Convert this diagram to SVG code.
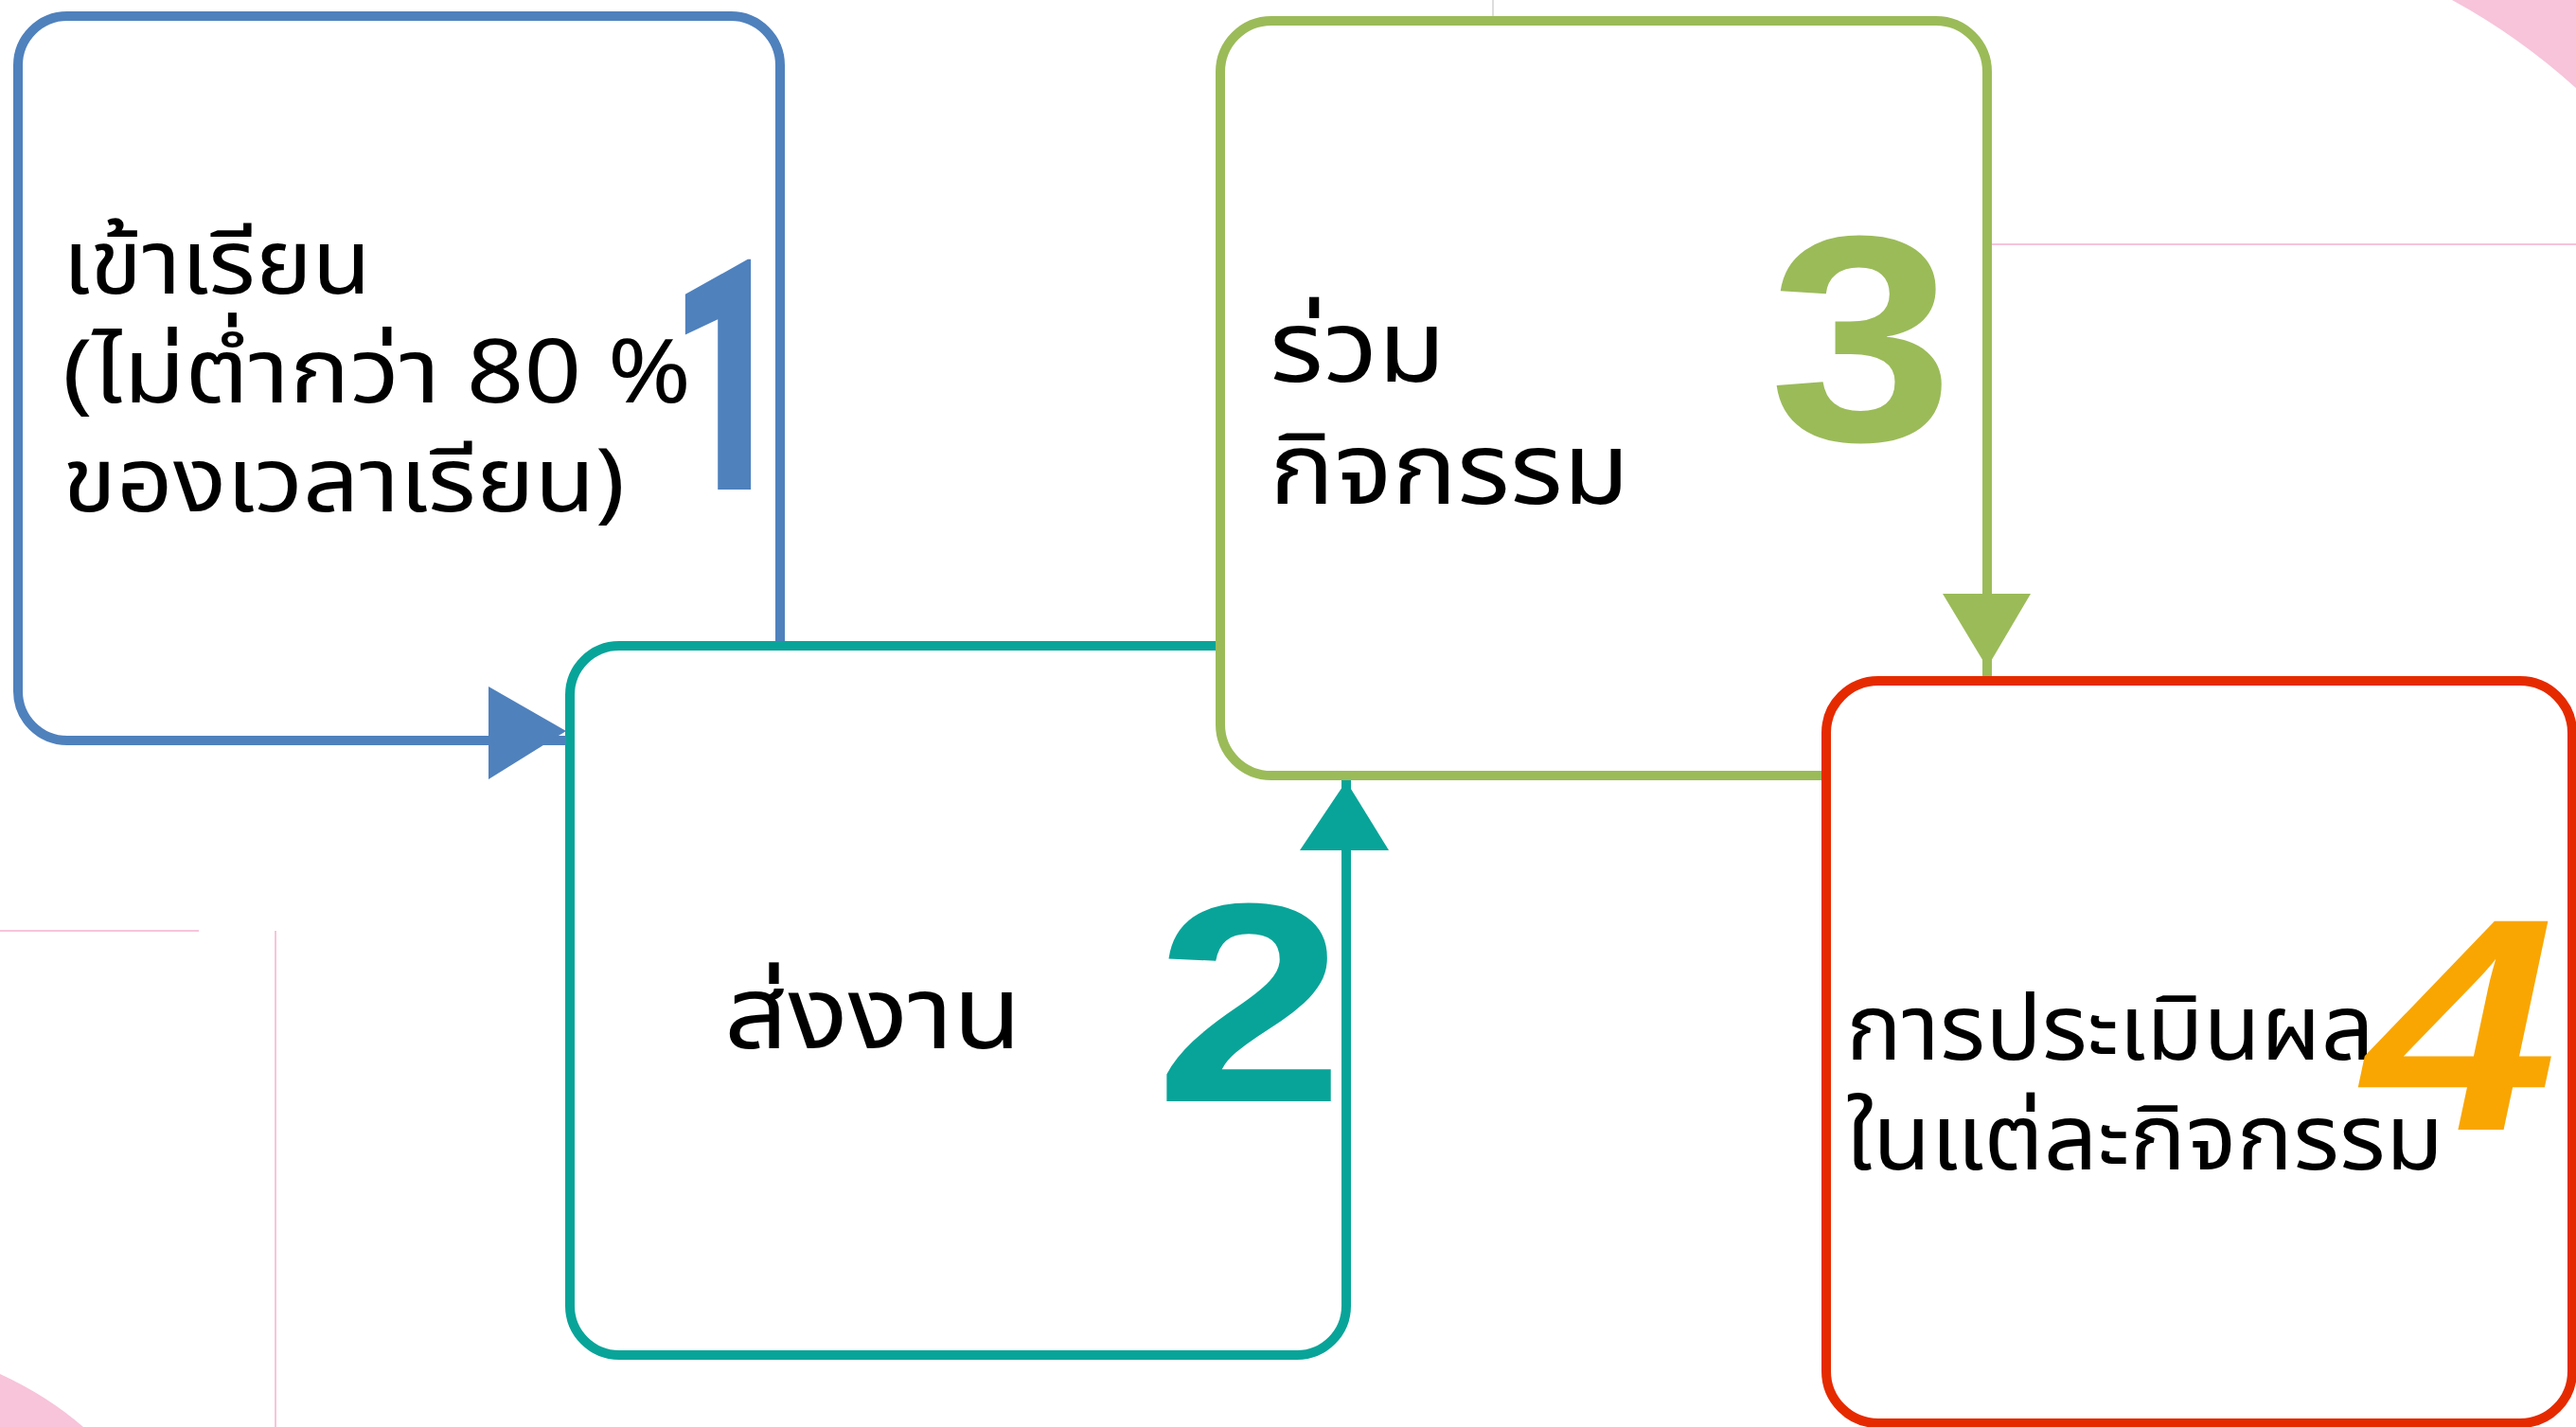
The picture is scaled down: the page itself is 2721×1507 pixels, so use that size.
<svg xmlns="http://www.w3.org/2000/svg" width="2721" height="1507" viewBox="0 0 2721 1507">
  <style>
    .box { fill: #FFFFFF; stroke-width: 10; }
    .lbl { font-family: "Noto Sans Thai", "Noto Sans", "DejaVu Sans", sans-serif; fill: #000000; }
    .num { font-family: "Liberation Sans", Arial, sans-serif; font-weight: bold; text-anchor: middle; }
    .one { font-family: Roboto, "Liberation Sans", sans-serif; font-weight: 900; text-anchor: middle; }
    .thin { fill: none; stroke-width: 2; }
  </style>
  <rect x="0" y="0" width="2721" height="1507" fill="#FFFFFF"/>
  <g id="background">
    <path d="M2590,0 Q2660,38 2721,93 L2721,0 Z" fill="#F7C4DA"/>
    <path d="M0,1451 Q50,1474 88,1507 L0,1507 Z" fill="#F7C4DA"/>
    <line class="thin" x1="2104" y1="258" x2="2721" y2="258" stroke="#F7C4DA"/>
    <line class="thin" x1="1577" y1="0" x2="1577" y2="17" stroke="#DDDDDD"/>
    <line class="thin" x1="0" y1="983" x2="210" y2="983" stroke="#F7C4DA"/>
    <line class="thin" x1="291" y1="983" x2="291" y2="1507" stroke="#F7C4DA"/>
  </g>
  <g id="node1">
    <rect class="box" x="19" y="17" width="805" height="765" rx="52" ry="52" stroke="#4F81BD"/>
    <text class="lbl" font-size="94" x="66" y="310" textLength="326" lengthAdjust="spacingAndGlyphs">เข้าเรียน</text>
    <text class="lbl" font-size="94" x="66" y="425" textLength="664" lengthAdjust="spacingAndGlyphs">(ไม่ต่ำกว่า 80 %</text>
    <text class="lbl" font-size="94" x="66" y="540" textLength="594" lengthAdjust="spacingAndGlyphs">ของเวลาเรียน)</text>
    <text class="one" fill="#4F81BD" font-size="342" transform="translate(768,517) scale(0.62,1)" x="0" y="0">1</text>
  </g>
  <g id="node2">
    <rect class="box" x="602" y="682" width="820" height="749" rx="52" ry="52" stroke="#09A499"/>
    <text class="lbl" font-size="108" x="765" y="1107" textLength="314" lengthAdjust="spacingAndGlyphs">ส่งงาน</text>
    <text class="num" fill="#09A499" font-size="300" transform="translate(1320,1163) scale(1.2,1)" x="0" y="0">2</text>
  </g>
  <g id="node3">
    <rect class="box" x="1289" y="22" width="810" height="797" rx="54" ry="54" stroke="#9BBB59"/>
    <text class="lbl" font-size="106" x="1341" y="403" textLength="186" lengthAdjust="spacingAndGlyphs">ร่วม</text>
    <text class="lbl" font-size="106" x="1341" y="532" textLength="380" lengthAdjust="spacingAndGlyphs">กิจกรรม</text>
    <text class="num" fill="#9BBB59" font-size="310" transform="translate(1966,465) scale(1.13,1)" x="0" y="0">3</text>
  </g>
  <g id="node4">
    <rect class="box" x="1929" y="719" width="788" height="784" rx="55" ry="55" stroke="#E62A00"/>
    <text class="lbl" font-size="96" x="1950" y="1119" textLength="558" lengthAdjust="spacingAndGlyphs">การประเมินผล</text>
    <text class="lbl" font-size="96" x="1950" y="1235" textLength="631" lengthAdjust="spacingAndGlyphs">ในแต่ละกิจกรรม</text>
    <text class="num" fill="#F9A602" font-size="320" transform="translate(2578,1193) skewX(-12) scale(1.15,1)" x="0" y="0">4</text>
  </g>
  <g id="connectors">
    <line x1="71" y1="782" x2="598" y2="782" stroke="#4F81BD" stroke-width="10"/>
    <polygon points="516,725 598,772 516,823" fill="#4F81BD"/>
    <line x1="1422" y1="1380" x2="1422" y2="830" stroke="#09A499" stroke-width="10"/>
    <polygon points="1373,898 1422,825 1467,898" fill="#09A499"/>
    <line x1="2099" y1="76" x2="2099" y2="712" stroke="#9BBB59" stroke-width="10"/>
    <polygon points="2052,627 2145,627 2099,705" fill="#9BBB59"/>
  </g>
</svg>
